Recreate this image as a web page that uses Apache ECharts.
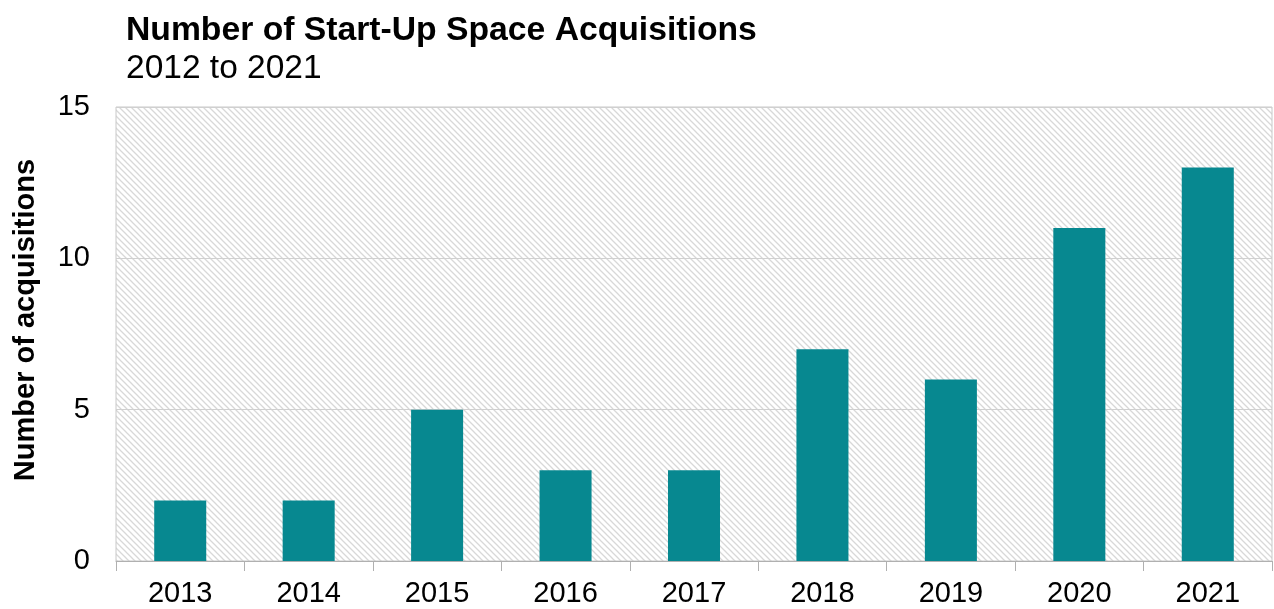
<!DOCTYPE html>
<html><head><meta charset="utf-8">
<script src="https://cdn.jsdelivr.net/npm/echarts@6/dist/echarts.min.js"></script>
<style>html,body{margin:0;padding:0;background:#fff}#c{width:1274px;height:609px}</style>
</head><body><div id="c"></div>
<script>
const categories = ['2013','2014','2015','2016','2017','2018','2019','2020','2021'];
const acquisitions = [2,2,5,3,3,7,6,11,13];
const yTicks = [0,5,10,15];

function hatch(){
  const c = document.createElement('canvas');
  c.width = 6; c.height = 6;
  const g = c.getContext('2d');
  g.fillStyle = '#ffffff'; g.fillRect(0,0,6,6);
  g.strokeStyle = '#d8d8d8'; g.lineWidth = 1.3;
  g.beginPath();
  g.moveTo(-1,-1); g.lineTo(7,7);
  g.moveTo(-4,2); g.lineTo(4,10);
  g.moveTo(2,-4); g.lineTo(10,4);
  g.stroke();
  return c;
}

const FONT = 'Liberation Sans, Arial';
const chart = echarts.init(document.getElementById('c'));
chart.setOption({
  animation:false,
  title:{
    text:'Number of Start-Up Space Acquisitions',
    subtext:'2012 to 2021',
    left:121, top:9,
    itemGap:4,
    textStyle:{fontFamily:FONT,fontWeight:'bold',fontSize:33.7,color:'#000'},
    subtextStyle:{fontFamily:FONT,fontSize:33.5,color:'#000'}
  },
  grid:{left:116,right:2,top:107,bottom:48,show:true,
    backgroundColor:{image:hatch(),repeat:'repeat'},
    borderColor:'#c8c8c8',borderWidth:1},
  xAxis:{type:'category',data:categories,
    axisLine:{lineStyle:{color:'#b0b0b0',width:1}},
    axisTick:{show:true,length:10,lineStyle:{color:'#b0b0b0'}},
    axisLabel:{fontFamily:FONT,fontSize:29,color:'#000',margin:18}
  },
  yAxis:{type:'value',min:0,max:15,interval:5,
    name:'Number of acquisitions',nameLocation:'middle',nameGap:76,
    nameTextStyle:{fontFamily:FONT,fontWeight:'bold',fontSize:29,color:'#000',padding:[0,0,0,28]},
    axisLine:{show:false},axisTick:{show:false},
    axisLabel:{fontFamily:FONT,fontSize:29,color:'#000',margin:26,
      formatter:v=>yTicks.includes(v)?String(v):''},
    splitLine:{lineStyle:{color:'#d0d0d0',width:1}}
  },
  series:[{type:'bar',data:acquisitions,barWidth:'40.5%',
    itemStyle:{color:'#078890'}}]
});
</script></body></html>
